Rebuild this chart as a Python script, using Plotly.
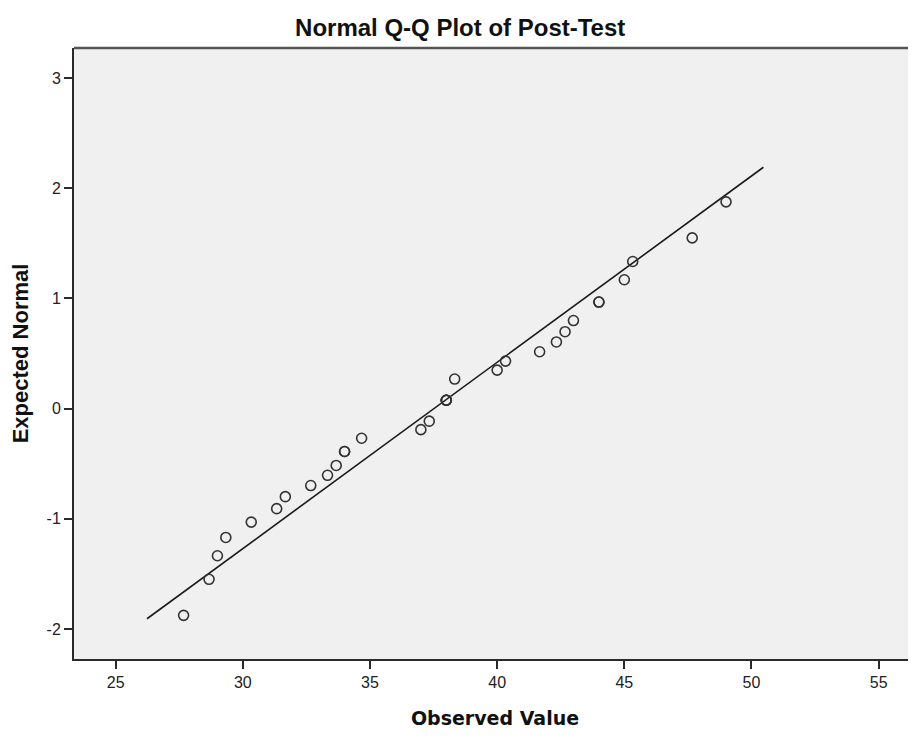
import plotly.graph_objects as go

observed = [27.67, 28.67, 29.0, 29.33, 30.33, 31.33, 31.67, 32.67, 33.33, 33.67,
            34.0, 34.0, 34.67, 37.0, 37.33, 38.0, 38.0, 38.0, 38.0, 38.33,
            40.0, 40.33, 41.67, 42.33, 42.67, 43.0, 44.0, 44.0, 45.0, 45.33,
            47.67, 49.0]
expected = [-1.876, -1.549, -1.335, -1.169, -1.030, -0.908, -0.799, -0.698, -0.605, -0.516,
            -0.389, -0.389, -0.269, -0.191, -0.114, 0.076, 0.076, 0.076, 0.076, 0.268,
            0.349, 0.431, 0.516, 0.605, 0.698, 0.799, 0.967, 0.967, 1.169, 1.335,
            1.549, 1.876]

# Reference line end points
line_x = [26.23, 50.47]
line_y = [-1.907, 2.19]

x_ticks = [25, 30, 35, 40, 45, 50, 55]
y_ticks = [-2, -1, 0, 1, 2, 3]

fig = go.Figure()
fig.add_trace(go.Scatter(
    x=line_x, y=line_y, mode="lines",
    line=dict(color="#1a1a1a", width=1.6),
    showlegend=False, hoverinfo="skip"))
fig.add_trace(go.Scatter(
    x=observed, y=expected, mode="markers",
    marker=dict(symbol="circle-open", size=10, color="#333333",
                line=dict(width=1.6, color="#333333")),
    showlegend=False))

fig.update_layout(
    width=908, height=732,
    margin=dict(l=66, r=0, t=40, b=81),
    paper_bgcolor="white",
    plot_bgcolor="#F0F0F0",
    title=dict(text="<b>Normal Q-Q Plot of Post-Test</b>",
               font=dict(family="Liberation Sans, Arial", size=24, color="#111111"),
               x=0.498, xanchor="center", y=0.973, yanchor="middle"),
    xaxis=dict(
        range=[23.36, 56.47], tickvals=x_ticks, ticktext=[str(v) for v in x_ticks],
        showgrid=False, zeroline=False,
        showline=True, linecolor="#2a2a2a", linewidth=2, mirror=False,
        ticks="outside", ticklen=8, tickwidth=2, tickcolor="#2a2a2a",
        tickfont=dict(family="Liberation Sans, Arial", size=16, color="#222222"),
        title=dict(text="<b>Observed Value</b>", standoff=21,
                   font=dict(family="DejaVu Sans, Verdana", size=19, color="#111111")),
    ),
    yaxis=dict(
        range=[-2.272, 3.272], tickvals=y_ticks, ticktext=[str(v) for v in y_ticks],
        showgrid=False, zeroline=False,
        showline=True, linecolor="#2a2a2a", linewidth=2,
        ticks="outside", ticklen=8, tickwidth=2, tickcolor="#2a2a2a",
        tickfont=dict(family="Liberation Sans, Arial", size=16, color="#222222"),
        title=dict(text="<b>Expected Normal</b>", standoff=12,
                   font=dict(family="Liberation Sans, Arial", size=22, color="#111111")),
    ),
    shapes=[dict(type="line", xref="paper", yref="paper", x0=0, x1=1, y0=1, y1=1,
                 line=dict(color="#555555", width=2.5))],
)

fig.write_html("out.html")
